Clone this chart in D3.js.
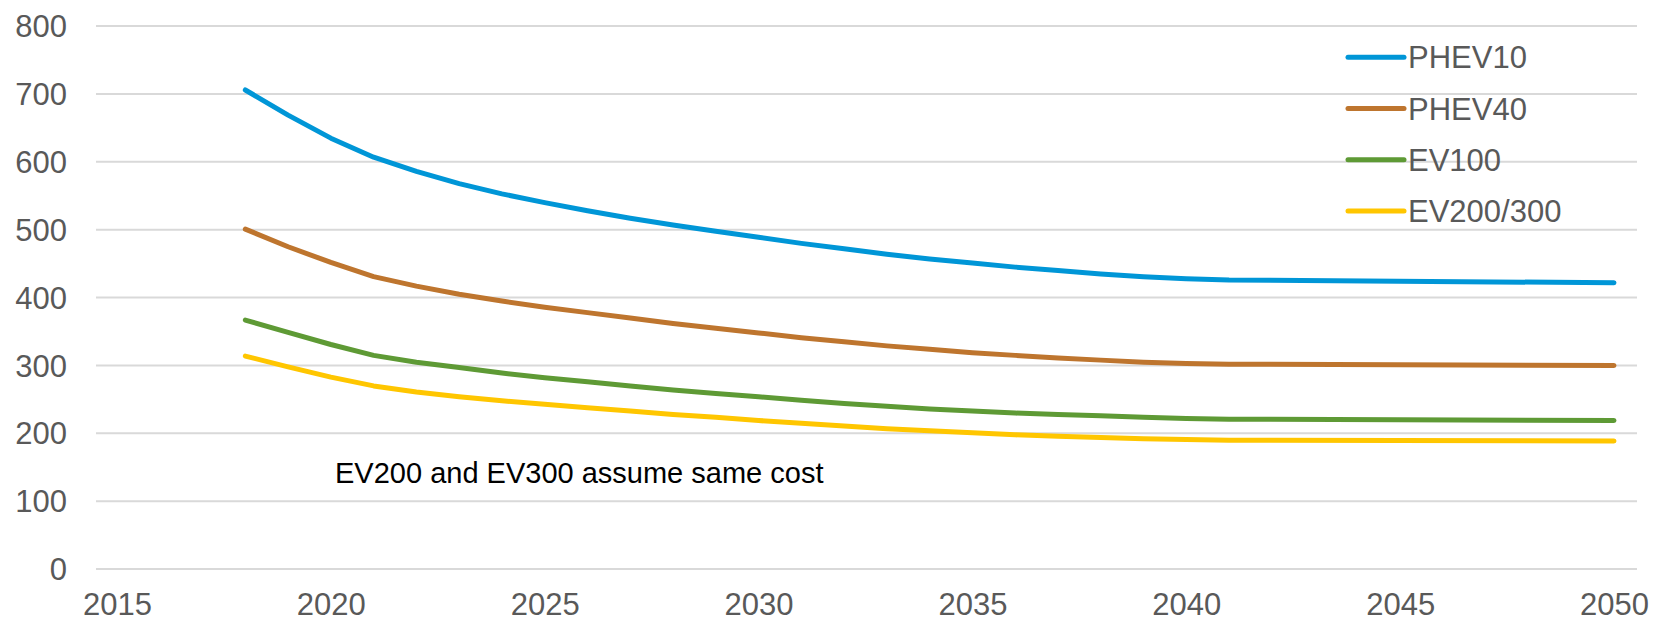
<!DOCTYPE html>
<html>
<head>
<meta charset="utf-8">
<script src="https://cdn.jsdelivr.net/npm/d3@7"></script>
<style>
  html, body { margin: 0; padding: 0; background: #fff; }
  svg text { font-family: "Liberation Sans", Arial, sans-serif; }
</style>
</head>
<body>
<svg id="chart" width="1665" height="623"></svg>
<script>
// Years sampled along each cost curve
const years = [2018, 2019, 2020, 2021, 2022, 2023, 2024, 2025, 2026, 2027, 2028, 2029,
               2030, 2031, 2032, 2033, 2034, 2035, 2036, 2037, 2038, 2039, 2040, 2041, 2050];

const phev10 = [705, 668, 634, 606, 585, 567, 552, 539, 527, 516, 506, 497,
                488, 479, 471, 463, 456, 450, 444, 439, 434, 430, 427, 425, 421];
const phev40 = [500, 474, 451, 430, 416, 404, 394, 385, 377, 369, 361, 354,
                347, 340, 334, 328, 323, 318, 314, 310, 307, 304, 302, 301, 299];
const ev100  = [366, 348, 330, 314, 304, 296, 288, 281, 275, 269, 263, 258,
                253, 248, 243, 239, 235, 232, 229, 227, 225, 223, 221, 220, 218];
const ev200  = [313, 297, 282, 269, 260, 253, 247, 242, 237, 232, 227, 223,
                218, 214, 210, 206, 203, 200, 197, 195, 193, 191, 190, 189, 188];

const seriesNames  = ["PHEV10", "PHEV40", "EV100", "EV200/300"];
const seriesColors = ["#0096D7", "#BE752E", "#5E9A35", "#FFC600"];
const seriesValues = [phev10, phev40, ev100, ev200];

const xTicks = [2015, 2020, 2025, 2030, 2035, 2040, 2045, 2050];
const yTicks = [0, 100, 200, 300, 400, 500, 600, 700, 800];
const note = "EV200 and EV300 assume same cost";

const svg = d3.select("#chart");

const x = d3.scaleLinear().domain([2015, 2050]).range([117, 1614]);
const y = d3.scaleLinear().domain([0, 800]).range([568.5, 25.5]);

const gridLeft = 96, gridRight = 1637;

// Horizontal gridlines with value labels
const yAxis = svg.append("g")
  .attr("transform", `translate(${gridLeft},0)`)
  .call(d3.axisLeft(y).tickValues(yTicks).tickSizeInner(-(gridRight - gridLeft)).tickSizeOuter(0).tickPadding(29));
yAxis.select(".domain").remove();
yAxis.selectAll(".tick line").attr("stroke", "#d9d9d9").attr("stroke-width", 2);
yAxis.selectAll(".tick text")
  .attr("fill", "#595959").attr("font-size", 31).attr("dy", "0.36em")
  .style("font-family", "'Liberation Sans', Arial, sans-serif");

// Year labels
const xAxis = svg.append("g")
  .attr("transform", `translate(0,${y(0)})`)
  .call(d3.axisBottom(x).tickValues(xTicks).tickFormat(d3.format("d")).tickSize(0).tickPadding(24));
xAxis.select(".domain").remove();
xAxis.selectAll(".tick text")
  .attr("fill", "#595959").attr("font-size", 31)
  .style("font-family", "'Liberation Sans', Arial, sans-serif");

// Cost curves
const line = d3.line()
  .x((d, i) => x(years[i]))
  .y(d => y(d));

svg.append("g").selectAll("path")
  .data(seriesValues)
  .join("path")
  .attr("d", d => line(d))
  .attr("fill", "none")
  .attr("stroke", (d, i) => seriesColors[i])
  .attr("stroke-width", 5)
  .attr("stroke-linejoin", "round")
  .attr("stroke-linecap", "round");

// Note
svg.append("text")
  .attr("x", 335).attr("y", 483)
  .attr("font-size", 29).attr("fill", "#000")
  .text(note);

// Legend
const legend = svg.append("g").selectAll("g")
  .data(seriesNames)
  .join("g")
  .attr("transform", (d, i) => `translate(1348,${57.3 + i * 51.2})`);
legend.append("line")
  .attr("x1", 0).attr("x2", 56).attr("y1", 0).attr("y2", 0)
  .attr("stroke", (d, i) => seriesColors[i])
  .attr("stroke-width", 5).attr("stroke-linecap", "round");
legend.append("text")
  .attr("x", 60).attr("dy", "0.36em")
  .attr("font-size", 31).attr("fill", "#595959")
  .text(d => d);
</script>
</body>
</html>
